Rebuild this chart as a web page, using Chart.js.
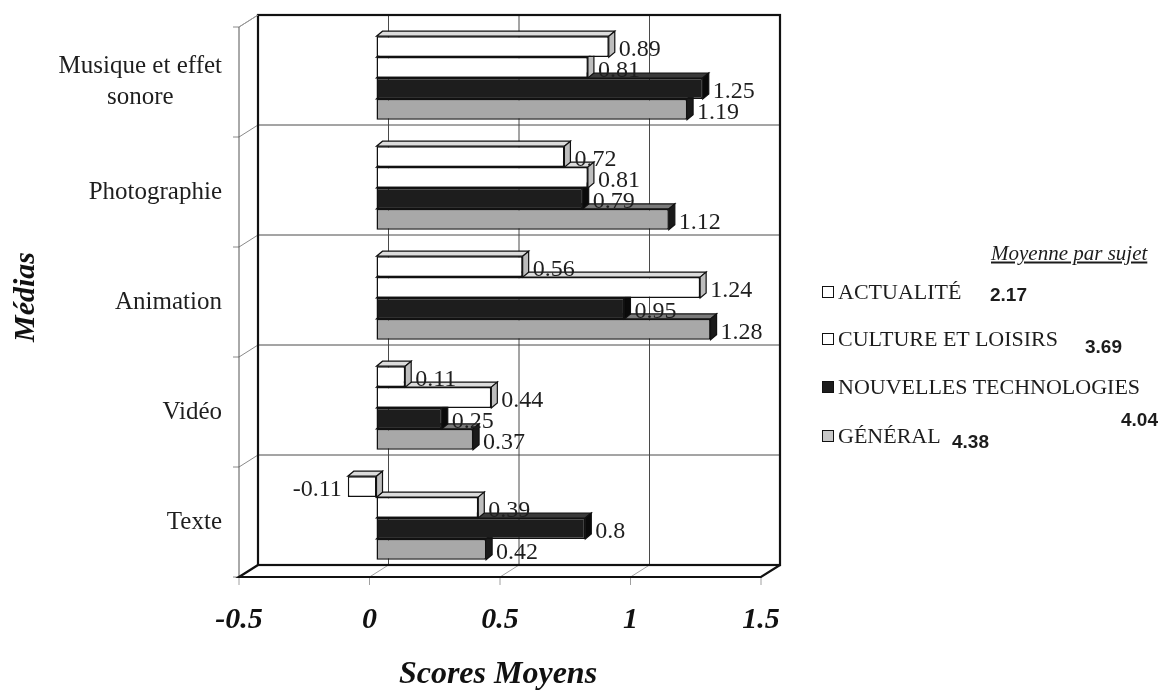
<!DOCTYPE html>
<html>
<head>
<meta charset="utf-8">
<script src="https://cdn.jsdelivr.net/npm/chart.js@4/dist/chart.umd.min.js"></script>
<style>
  html, body { margin: 0; padding: 0; background: #fff; }
  #wrap { position: relative; width: 1166px; height: 691px; overflow: hidden; }
  #c { position: absolute; left: 0; top: 0; }
  .lg { position: absolute; white-space: nowrap; line-height: 1; transform: translateY(-50%); color: #1c1c1c; }
  .serif { font-family: "Liberation Serif", "Times New Roman", serif; font-size: 22px; }
  .num { font-family: "Liberation Sans", Arial, sans-serif; font-weight: bold; font-size: 19px; }
  .ttl { font-family: "Liberation Serif", serif; font-style: italic; font-size: 21px; text-decoration: underline; }
  .box { position: absolute; width: 10px; height: 10px; border: 1.5px solid #111; transform: translateY(-50%); }
</style>
</head>
<body>
<div id="wrap">
  <canvas id="c" width="1166" height="691"></canvas>
  <div id="legend"></div>
</div>
<script>
// Media categories (top to bottom) and mean scores per subject
const categories = [["Musique et effet", "sonore"], "Photographie", "Animation", "Vidéo", "Texte"];
const seriesNames = ["ACTUALITÉ", "CULTURE ET LOISIRS", "NOUVELLES TECHNOLOGIES", "GÉNÉRAL"];
const actualite = [0.89, 0.72, 0.56, 0.11, -0.11];
const culture   = [0.81, 0.81, 1.24, 0.44, 0.39];
const nouvelles = [1.25, 0.79, 0.95, 0.25, 0.8];
const general   = [1.19, 1.12, 1.28, 0.37, 0.42];
const moyennes  = [2.17, 3.69, 4.04, 4.38];
const xTicks    = [-0.5, 0, 0.5, 1, 1.5];

// fill colours: front face, top face, side face
const faceColors = [
  { front: "#ffffff", top: "#dcdcdc", side: "#bdbdbd" },
  { front: "#ffffff", top: "#dcdcdc", side: "#bdbdbd" },
  { front: "#1d1d1d", top: "#3a3a3a", side: "#0a0a0a" },
  { front: "#a8a8a8", top: "#7a7a7a", side: "#1a1a1a" }
];

// 3D box geometry, relative to the plane where bar fronts are drawn
const DEPTH = { dx: 6, dy: -5 };          // bar thickness
const BACK  = { dx: 12, dy: -8 };         // back wall offset
const FRONT = { dx: -7, dy: 4 };          // front edge offset
const SERIF = '"Liberation Serif", "Times New Roman", serif';

const box3d = {
  id: "box3d",
  beforeDatasetsDraw(chart) {
    const { ctx, chartArea: a, scales: { x } } = chart;
    const bl = a.left + BACK.dx, br = a.right + BACK.dx, bt = a.top + BACK.dy, bb = a.bottom + BACK.dy;
    const fl = a.left + FRONT.dx, fr = a.right + FRONT.dx, ft = a.top + FRONT.dy, fb = a.bottom + FRONT.dy;
    const band = (a.bottom - a.top) / categories.length;
    ctx.save();
    // back wall grid
    ctx.strokeStyle = "#4a4a4a"; ctx.lineWidth = 1;
    [0, 0.5, 1].forEach(v => {
      const px = x.getPixelForValue(v) + BACK.dx;
      ctx.beginPath(); ctx.moveTo(px, bt); ctx.lineTo(px, bb); ctx.stroke();
    });
    for (let k = 1; k < categories.length; k++) {
      const y = a.top + k * band + BACK.dy;
      ctx.beginPath(); ctx.moveTo(bl, y); ctx.lineTo(br, y); ctx.stroke();
    }
    // left side wall: ticks and connectors
    ctx.strokeStyle = "#8a8a8a";
    for (let k = 0; k <= categories.length; k++) {
      const y = a.top + k * band;
      ctx.beginPath();
      ctx.moveTo(fl - 6, y + FRONT.dy); ctx.lineTo(fl, y + FRONT.dy);
      ctx.lineTo(bl, y + BACK.dy);
      ctx.stroke();
    }
    ctx.strokeStyle = "#555";
    ctx.beginPath(); ctx.moveTo(fl, ft); ctx.lineTo(fl, fb); ctx.stroke();
    // floor grid and front ticks
    ctx.strokeStyle = "#a0a0a0";
    xTicks.forEach(v => {
      const px = x.getPixelForValue(v);
      ctx.beginPath();
      ctx.moveTo(px + BACK.dx, bb); ctx.lineTo(px + FRONT.dx, fb); ctx.lineTo(px + FRONT.dx, fb + 8);
      ctx.stroke();
    });
    // back wall frame
    ctx.strokeStyle = "#111"; ctx.lineWidth = 2.2;
    ctx.strokeRect(bl, bt, br - bl, bb - bt);
    // floor outline
    ctx.beginPath();
    ctx.moveTo(bl, bb); ctx.lineTo(fl, fb); ctx.lineTo(fr, fb); ctx.lineTo(br, bb);
    ctx.stroke();
    ctx.lineWidth = 1; ctx.strokeStyle = "#999";
    ctx.beginPath(); ctx.moveTo(fl, ft); ctx.lineTo(bl, bt); ctx.stroke();

    // bar tops and ends, drawn behind the front faces
    ctx.lineWidth = 1.2; ctx.strokeStyle = "#111";
    for (let d = chart.data.datasets.length - 1; d >= 0; d--) {
      const meta = chart.getDatasetMeta(d);
      meta.data.forEach(el => {
        const p = el.getProps(["x", "y", "base", "height"], true);
        const l = Math.min(p.x, p.base), r = Math.max(p.x, p.base);
        const t = p.y - p.height / 2, b = p.y + p.height / 2;
        ctx.fillStyle = faceColors[d].top;
        ctx.beginPath();
        ctx.moveTo(l, t); ctx.lineTo(r, t); ctx.lineTo(r + DEPTH.dx, t + DEPTH.dy); ctx.lineTo(l + DEPTH.dx, t + DEPTH.dy);
        ctx.closePath(); ctx.fill(); ctx.stroke();
        ctx.fillStyle = faceColors[d].side;
        ctx.beginPath();
        ctx.moveTo(r, t); ctx.lineTo(r + DEPTH.dx, t + DEPTH.dy); ctx.lineTo(r + DEPTH.dx, b + DEPTH.dy); ctx.lineTo(r, b);
        ctx.closePath(); ctx.fill(); ctx.stroke();
      });
    }
    ctx.restore();
  },
  afterDatasetsDraw(chart) {
    const { ctx, chartArea: a, scales: { x, y } } = chart;
    ctx.save();
    // value labels
    ctx.font = "24px " + SERIF; ctx.fillStyle = "#1e1e1e"; ctx.textBaseline = "middle";
    chart.data.datasets.forEach((ds, d) => {
      chart.getDatasetMeta(d).data.forEach((el, i) => {
        const v = ds.data[i];
        const p = el.getProps(["x", "y", "base"], true);
        if (v < 0) {
          ctx.textAlign = "right";
          ctx.fillText(String(v), p.x - 6, p.y + 3);
        } else {
          ctx.textAlign = "left";
          ctx.fillText(String(v), p.x + DEPTH.dx + 4, p.y + 3);
        }
      });
    });
    // value axis labels on the front edge
    ctx.font = "italic bold 30px " + SERIF; ctx.fillStyle = "#111"; ctx.textAlign = "center";
    xTicks.forEach(v => ctx.fillText(String(v), x.getPixelForValue(v) + FRONT.dx, 620));
    // category labels
    ctx.font = "25px " + SERIF; ctx.fillStyle = "#1e1e1e";
    categories.forEach((c, i) => {
      const lines = Array.isArray(c) ? c : [c];
      const w = Math.max(...lines.map(s => ctx.measureText(s).width));
      const cx = 222 - w / 2;
      const cy = y.getPixelForValue(i) + FRONT.dy;
      const lh = 31;
      lines.forEach((s, j) => ctx.fillText(s, cx, cy + (j - (lines.length - 1) / 2) * lh));
    });
    // axis titles
    ctx.font = "italic bold 32px " + SERIF; ctx.fillStyle = "#111";
    ctx.fillText("Scores Moyens", 498, 675);
    ctx.font = "italic bold 30px " + SERIF;
    ctx.translate(26, 297); ctx.rotate(-Math.PI / 2);
    ctx.fillText("Médias", 0, 0);
    ctx.restore();
  }
};

const seriesData = [actualite, culture, nouvelles, general];
new Chart(document.getElementById("c"), {
  type: "bar",
  data: {
    labels: categories,
    datasets: seriesNames.map((n, d) => ({
      label: n,
      data: seriesData[d],
      backgroundColor: faceColors[d].front,
      borderColor: "#111",
      borderWidth: 1.5,
      borderSkipped: false,
      categoryPercentage: 0.76,
      barPercentage: 1.0
    }))
  },
  options: {
    indexAxis: "y",
    responsive: false,
    animation: false,
    devicePixelRatio: 1,
    layout: { padding: { left: 246, right: 398, top: 23, bottom: 118 } },
    scales: {
      x: { min: -0.5, max: 1.5, display: false },
      y: { display: false }
    },
    plugins: { legend: { display: false }, tooltip: { enabled: false } }
  },
  plugins: [box3d]
});

// legend with mean score per subject
const legend = document.getElementById("legend");
function put(cls, text, left, cy) {
  const s = document.createElement("span");
  s.className = "lg " + cls; s.textContent = text;
  s.style.left = left + "px"; s.style.top = cy + "px";
  legend.appendChild(s);
}
put("ttl", "Moyenne par sujet", 991, 253);
const rows = [292, 339, 387, 436];
const numPos = [[990, 294], [1085, 346], [1121, 419], [952, 441]];
seriesNames.forEach((n, d) => {
  const b = document.createElement("div");
  b.className = "box";
  b.style.left = "822px"; b.style.top = rows[d] + "px";
  b.style.background = d === 2 ? "#1d1d1d" : d === 3 ? "#c8c8c8" : "#fff";
  legend.appendChild(b);
  put("serif", n, 838, rows[d]);
  put("num", moyennes[d].toFixed(2), numPos[d][0], numPos[d][1]);
});
</script>
</body>
</html>
